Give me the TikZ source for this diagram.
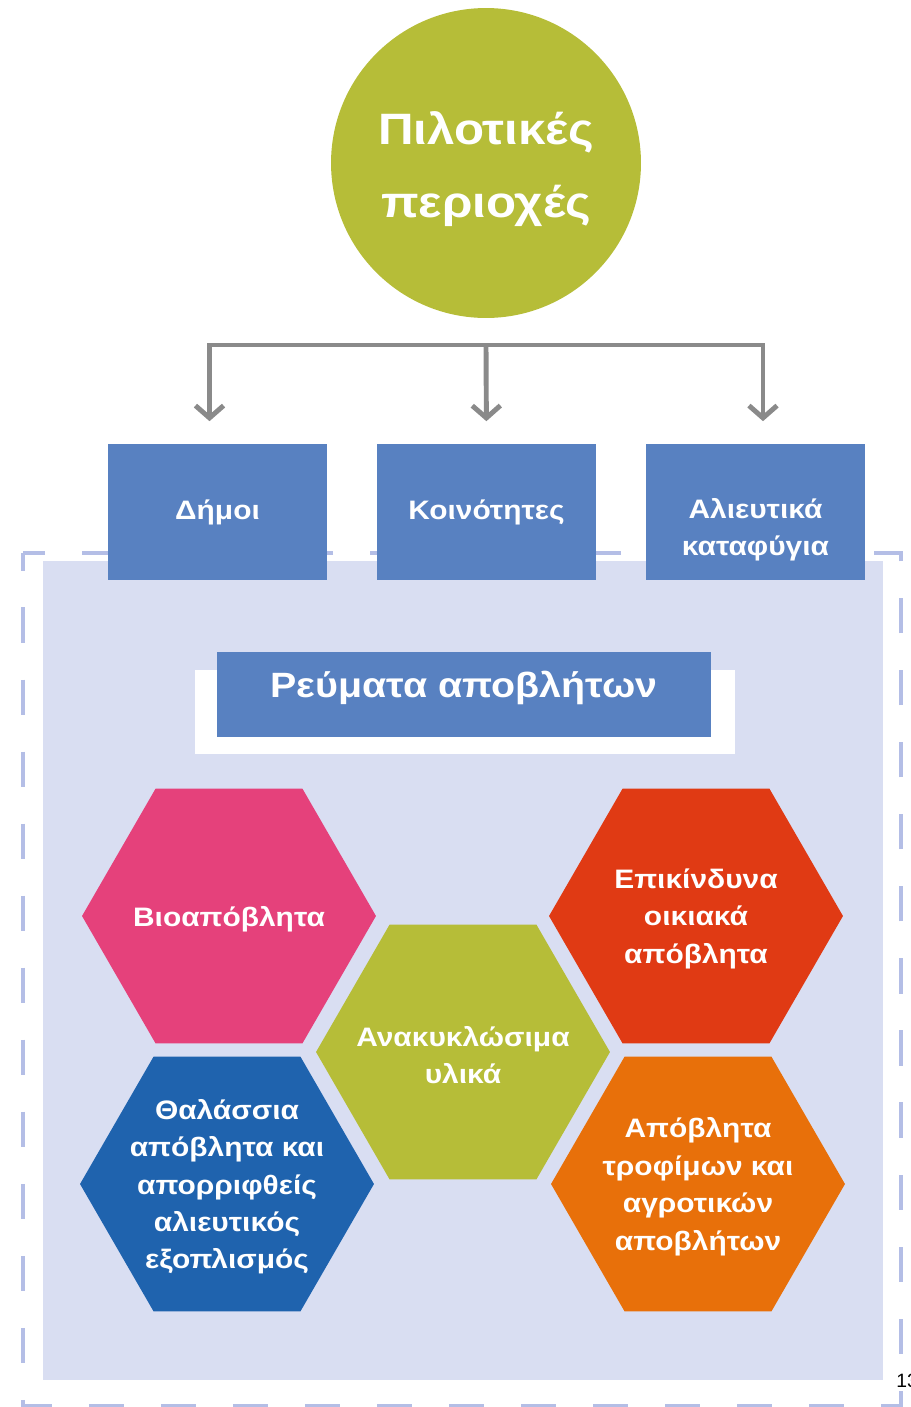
\documentclass[tikz,border=0pt]{standalone}
\usepackage{fontspec}
\setmainfont{Liberation Sans}[FakeStretch=1.12]
\newfontfamily\pagefont{Liberation Sans}
\usetikzlibrary{shapes.geometric, arrows.meta, calc, positioning}

\definecolor{olive}{RGB}{182,189,56}
\definecolor{boxblue}{RGB}{88,129,193}
\definecolor{panel}{RGB}{217,222,242}
\definecolor{panelline}{RGB}{180,190,230}
\definecolor{linkgray}{RGB}{138,138,138}
\definecolor{hexpink}{RGB}{229,65,123}
\definecolor{hexred}{RGB}{224,58,20}
\definecolor{hexblue}{RGB}{31,99,174}
\definecolor{hexorange}{RGB}{232,112,10}

\tikzset{
    box/.style={fill=boxblue, minimum width=4.38cm, minimum height=2.72cm,
        inner sep=0pt, outer sep=0pt},
    boxtxt/.style={text=white, align=center, inner sep=0pt,
        font=\bfseries\fontsize{15.2}{21.3}\selectfont},
    hexa/.style={regular polygon, regular polygon sides=6, minimum size=5.88cm,
        inner sep=0pt, outer sep=0pt, fill=#1},
    hextxt/.style={boxtxt, yshift=-1.6pt},
    link/.style={draw=linkgray, line width=2.8pt,
        -{Straight Barb[length=7pt, width=16pt]}, shorten >=13pt}
}

\begin{document}
\begin{tikzpicture}[x=0.02cm, y=-0.02cm]
\useasboundingbox (0, 0) rectangle (911, 1407);

% panel with dashed frame
\fill[panel] (43, 561) rectangle (883, 1380);
\draw[panelline, line width=2.3pt, dash pattern=on 20pt off 21pt, dash phase=10pt]
    (23, 553) rectangle (901, 1406);

% top circle
\node[circle, fill=olive, minimum size=6.2cm, inner sep=0pt,
    label={[boxtxt, font=\bfseries\fontsize{25}{41.5}\selectfont, yshift=-3.5pt]center:Πιλοτικές\\περιοχές}]
    (pilot) at (486, 163) {};

% three targets
\node[box, label={[boxtxt]center:Δήμοι}] (dimoi) at (217.5, 512) {};
\node[box, label={[boxtxt]center:Κοινότητες}] (koin) at (486.5, 512) {};
\node[box, label={[boxtxt, yshift=-10pt]center:Αλιευτικά\\καταφύγια}] (alieia) at (755.5, 512) {};

\coordinate (split) at (486, 345);
\draw[link] (split) -| ($(dimoi.north)+(-8, 0)$);
\draw[link] (split) -- (koin.north);
\draw[link] (split) -| ($(alieia.north)+(7.5, 0)$);

% waste streams title
\fill[white] (195, 670) rectangle (735, 754);
\node[box, minimum width=9.88cm, minimum height=1.7cm,
    label={[boxtxt, font=\bfseries\fontsize{20}{25}\selectfont, yshift=4pt]center:Ρεύματα αποβλήτων}]
    (streams) at (464, 694.5) {};

% hexagons
\node[hexa=hexpink, label={[hextxt]center:Βιοαπόβλητα}] (bio) at (229, 916) {};
\node[hexa=hexred, label={[hextxt]center:Επικίνδυνα\\οικιακά\\απόβλητα}] (haz) at (696, 916) {};
\node[hexa=olive, label={[hextxt]center:Ανακυκλώσιμα\\υλικά}] (recyc) at (463, 1052) {};
\node[hexa=hexblue, label={[hextxt]center:Θαλάσσια\\απόβλητα και\\απορριφθείς\\αλιευτικός\\εξοπλισμός}] (marine) at (227, 1184) {};
\node[hexa=hexorange, label={[hextxt]center:Απόβλητα\\τροφίμων και\\αγροτικών\\αποβλήτων}] (food) at (698, 1184) {};

\node[anchor=base west, inner sep=0pt, font=\pagefont\fontsize{11}{13}\selectfont] (pagenum) at (896, 1387) {13};
\end{tikzpicture}
\end{document}
